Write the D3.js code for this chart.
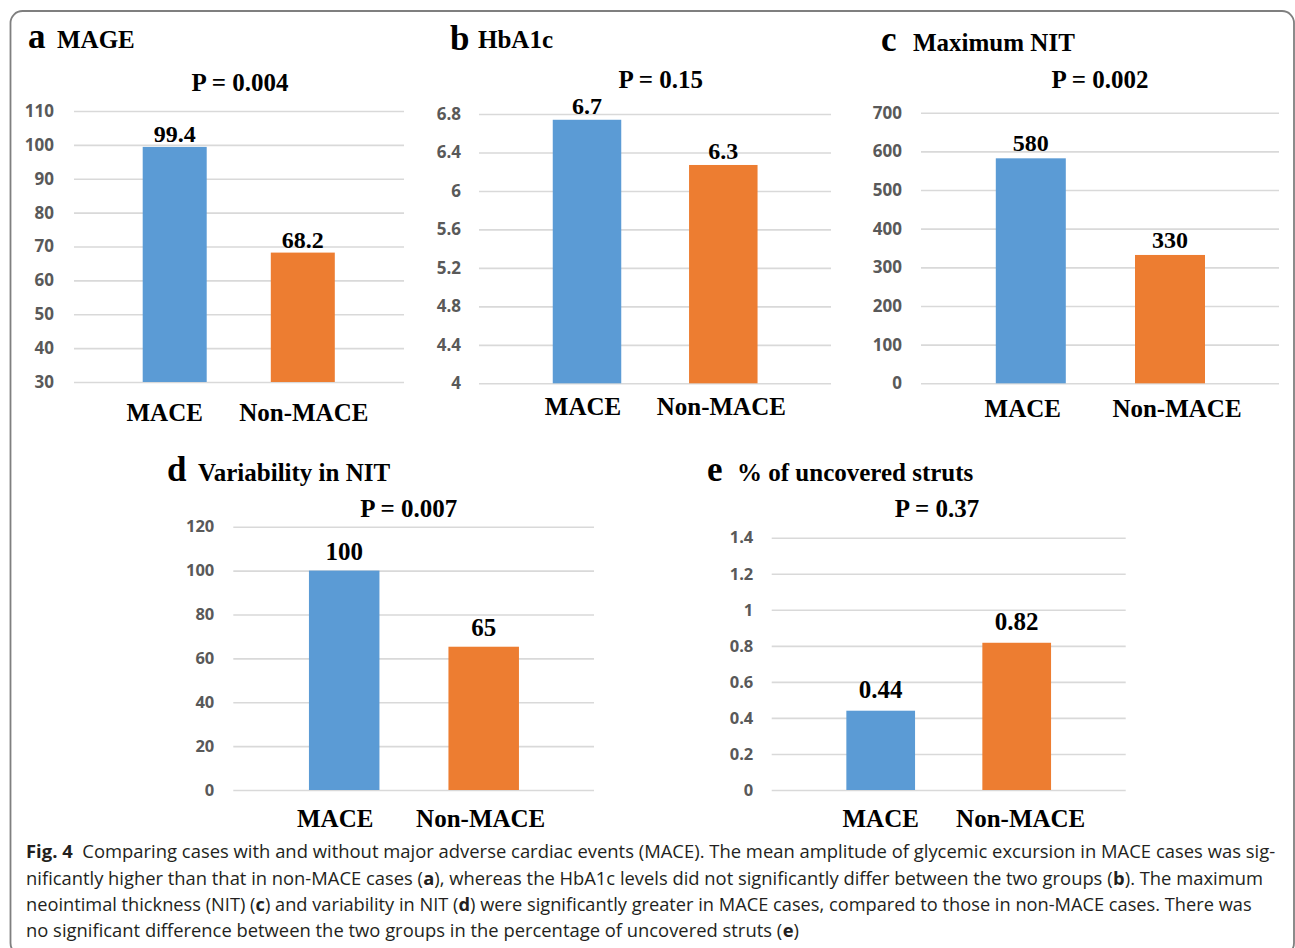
<!DOCTYPE html>
<html>
<head>
<meta charset="utf-8">
<script src="https://cdn.jsdelivr.net/npm/d3@7"></script>
<style>
  html, body { margin: 0; padding: 0; background: #fff; }
  svg { display: block; }
  text { white-space: pre; }
</style>
</head>
<body>
<svg id="chart" width="1295" height="948"></svg>
<script>
// ---------------- DATA ----------------
const categories = ["MACE", "Non-MACE"];

const mageValues = [99.4, 68.2];
const mageLabels = ["99.4", "68.2"];
const mageTicks = [30, 40, 50, 60, 70, 80, 90, 100, 110];

const hba1cValues = [6.74, 6.27];
const hba1cLabels = ["6.7", "6.3"];
const hba1cTicks = [4, 4.4, 4.8, 5.2, 5.6, 6, 6.4, 6.8];

const maxNitValues = [582, 332];
const maxNitLabels = ["580", "330"];
const maxNitTicks = [0, 100, 200, 300, 400, 500, 600, 700];

const varNitValues = [100, 65.3];
const varNitLabels = ["100", "65"];
const varNitTicks = [0, 20, 40, 60, 80, 100, 120];

const strutValues = [0.44, 0.817];
const strutLabels = ["0.44", "0.82"];
const strutTicks = [0, 0.2, 0.4, 0.6, 0.8, 1, 1.2, 1.4];

const panelLetters = ["a", "b", "c", "d", "e"];
const panelTitles = ["MAGE", "HbA1c", "Maximum NIT", "Variability in NIT", "% of uncovered struts"];
const pValues = ["P = 0.004", "P = 0.15", "P = 0.002", "P = 0.007", "P = 0.37"];

const captionLines = [
  [["Fig. 4", true], ["  Comparing cases with and without major adverse cardiac events (MACE). The mean amplitude of glycemic excursion in MACE cases was sig-", false]],
  [["nificantly higher than that in non-MACE cases (", false], ["a", true], ["), whereas the HbA1c levels did not significantly differ between the two groups (", false], ["b", true], ["). The maximum", false]],
  [["neointimal thickness (NIT) (", false], ["c", true], [") and variability in NIT (", false], ["d", true], [") were significantly greater in MACE cases, compared to those in non-MACE cases. There was", false]],
  [["no significant difference between the two groups in the percentage of uncovered struts (", false], ["e", true], [")", false]]
];

// ---------------- LAYOUT ----------------
const colors = ["#5B9BD5", "#ED7D31"];
const serif = "'Liberation Serif', 'Times New Roman', serif";
const sans = "'Open Sans', 'Liberation Sans', sans-serif";

const panels = [
  { values: mageValues, labels: mageLabels, ticks: mageTicks, domain: [30, 110],
    yRange: [382, 111], grid: [74, 404], centers: [174.7, 302.8], barW: 64,
    tickX: 54, tickSize: 17, letterX: 28, letterY: 48, titleX: 57, titleY: 48,
    pX: 240, pY: 91, catY: 421, catDx: [-10, 1], valGap: 5, valSize: 24 },
  { values: hba1cValues, labels: hba1cLabels, ticks: hba1cTicks, domain: [4, 6.8],
    yRange: [383.3, 114], grid: [479, 831], centers: [587, 723.3], barW: 68.5,
    tickX: 461, tickSize: 17, letterX: 450, letterY: 50, titleX: 478, titleY: 48,
    pX: 660.7, pY: 88, catY: 415, catDx: [-4, -2], valGap: 6, valSize: 24 },
  { values: maxNitValues, labels: maxNitLabels, ticks: maxNitTicks, domain: [0, 700],
    yRange: [383.3, 112.7], grid: [921, 1279], centers: [1030.8, 1170], barW: 70,
    tickX: 902, tickSize: 17, letterX: 881, letterY: 51, titleX: 913, titleY: 51,
    pX: 1100, pY: 88, catY: 417, catDx: [-8, 7], valGap: 7, valSize: 24 },
  { values: varNitValues, labels: varNitLabels, ticks: varNitTicks, domain: [0, 120],
    yRange: [790, 526.7], grid: [233.3, 594], centers: [344.2, 483.7], barW: 70.5,
    tickX: 214.3, tickSize: 16.5, letterX: 167, letterY: 481, titleX: 198, titleY: 481,
    pX: 408.8, pY: 517, catY: 827, catDx: [-9, -3], valGap: 11, valSize: 25 },
  { values: strutValues, labels: strutLabels, ticks: strutTicks, domain: [0, 1.4],
    yRange: [790, 537.7], grid: [771.7, 1125.7], centers: [880.7, 1016.7], barW: 68.7,
    tickX: 753.3, tickSize: 16.5, letterX: 707, letterY: 481, titleX: 737, titleY: 481,
    pX: 937, pY: 517, catY: 827, catDx: [0, 4], valGap: 13, valSize: 25 }
];

const svg = d3.select("#chart");

// frame
svg.append("rect")
  .attr("x", 10.5).attr("y", 11).attr("width", 1283.5).attr("height", 944)
  .attr("rx", 12).attr("ry", 12)
  .attr("fill", "none").attr("stroke", "#7f7f7f").attr("stroke-width", 1.8);

panels.forEach((p, i) => {
  const g = svg.append("g");
  const sep = p.centers[1] - p.centers[0];
  const pad = 1 - p.barW / sep;
  const x = d3.scaleBand().domain(categories)
    .range([p.centers[0] - sep / 2, p.centers[1] + sep / 2])
    .paddingInner(pad).paddingOuter(pad / 2);
  const y = d3.scaleLinear().domain(p.domain).range(p.yRange);

  const gridAxis = d3.axisLeft(y).tickValues(p.ticks)
    .tickSize(-(p.grid[1] - p.grid[0])).tickFormat("");
  const gg = g.append("g").attr("transform", `translate(${p.grid[0]},0)`).call(gridAxis);
  gg.select(".domain").remove();
  gg.selectAll(".tick line").attr("stroke", "#d9d9d9").attr("stroke-width", 1.6);

  const labAxis = d3.axisLeft(y).tickValues(p.ticks).tickSize(0).tickPadding(0)
    .tickFormat(d => d3.format("~g")(d));
  const lg = g.append("g").attr("transform", `translate(${p.tickX},0)`).call(labAxis);
  lg.select(".domain").remove();
  lg.selectAll(".tick text")
    .attr("fill", "#595959").attr("font-family", sans).attr("font-weight", "bold")
    .attr("font-size", p.tickSize);

  g.selectAll("rect.bar").data(p.values).enter().append("rect")
    .attr("class", "bar")
    .attr("x", (d, j) => x(categories[j]))
    .attr("width", x.bandwidth())
    .attr("y", d => y(d))
    .attr("height", d => y(p.domain[0]) - y(d))
    .attr("fill", (d, j) => colors[j]);

  g.selectAll("text.val").data(p.values).enter().append("text")
    .attr("class", "val")
    .attr("x", (d, j) => x(categories[j]) + x.bandwidth() / 2)
    .attr("y", d => y(d) - p.valGap)
    .attr("text-anchor", "middle")
    .attr("font-family", serif).attr("font-weight", "bold").attr("font-size", p.valSize)
    .attr("fill", "#000")
    .text((d, j) => p.labels[j]);

  g.selectAll("text.cat").data(categories).enter().append("text")
    .attr("class", "cat")
    .attr("x", (d, j) => x(d) + x.bandwidth() / 2 + p.catDx[j])
    .attr("y", p.catY)
    .attr("text-anchor", "middle")
    .attr("font-family", serif).attr("font-weight", "bold").attr("font-size", 25)
    .attr("fill", "#000")
    .text(d => d);

  g.append("text").attr("x", p.letterX).attr("y", p.letterY)
    .attr("font-family", serif).attr("font-weight", "bold").attr("font-size", 35)
    .text(panelLetters[i]);
  g.append("text").attr("x", p.titleX).attr("y", p.titleY)
    .attr("font-family", serif).attr("font-weight", "bold").attr("font-size", 25)
    .text(panelTitles[i]);

  g.append("text").attr("x", p.pX).attr("y", p.pY).attr("text-anchor", "middle")
    .attr("font-family", serif).attr("font-weight", "bold").attr("font-size", 25)
    .text(pValues[i]);
});

// caption: each segment its own text, laid out sequentially, line scaled to width
const capBaselines = [858, 884.5, 910.5, 936.5];
const capEnds = [1276, 1263, 1252, 799];
const capX = 26;
captionLines.forEach((line, k) => {
  const lg = svg.append("g");
  let cx = 0;
  const texts = [];
  line.forEach(seg => {
    const t = lg.append("text")
      .attr("x", cx).attr("y", 0)
      .attr("font-family", sans).attr("font-size", 18.5).attr("fill", "#231f20")
      .attr("font-weight", seg[1] ? "bold" : "normal")
      .text(seg[0]);
    const w = t.node().getComputedTextLength();
    texts.push(t);
    cx += w;
  });
  const sx = (capEnds[k] - capX) / cx;
  lg.attr("transform", `translate(${capX},${capBaselines[k]}) scale(${sx},1)`);
});
</script>
</body>
</html>
